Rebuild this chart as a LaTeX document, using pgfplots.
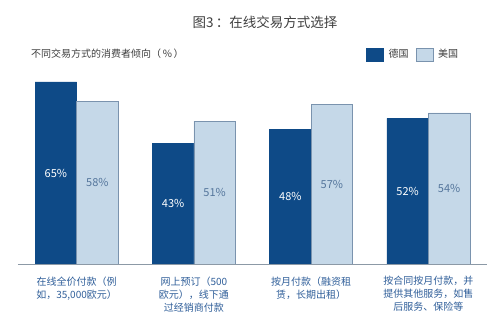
\documentclass[border=0pt]{standalone}
\usepackage{fontspec}
\setmainfont{Noto Sans CJK SC}
\usepackage{pgfplots}
\pgfplotsset{compat=1.18}
\definecolor{dblue}{HTML}{0E4A87}
\definecolor{lblue}{HTML}{C5D8E8}
\definecolor{lborder}{HTML}{7A93AE}
\definecolor{titlegray}{HTML}{3F3F3F}
\definecolor{catblue}{HTML}{2F5E99}
\definecolor{axisgray}{HTML}{8C99A6}
\definecolor{lighttext}{HTML}{55769C}
\begin{document}
\begin{tikzpicture}
\path[use as bounding box] (0,0) rectangle (500pt,328pt);
\node[font=\fontsize{13.5}{16}\selectfont, text=titlegray] at (265pt,306pt) {图3\,：在线交易方式选择};
\node[font=\fontsize{10}{12}\selectfont, text=titlegray, anchor=west, inner sep=0pt] at (31pt,274pt) {不同交易方式的消费者倾向（\,\%\,）};
\begin{axis}[
  at={(18pt,64pt)}, anchor=south west,
  scale only axis, width=469pt, height=196pt,
  ybar=0pt, bar width=41.5pt,
  xmin=-0.5, xmax=3.5, ymin=0, ymax=70,
  axis x line*=bottom, axis y line=none,
  x axis line style={-, draw=axisgray, line width=0.8pt},
  xtick={0,1,2,3}, major tick length=0pt,
  xticklabels={{在线全价付款（例\\如，35,000欧元）},{网上预订（500\\欧元），线下通\\过经销商付款},{按月付款（融资租\\赁，长期出租）},{按合同按月付款，并\\提供其他服务，如售\\后服务、保险等}},
  xticklabel style={align=center, font=\fontsize{10}{13}\selectfont, text=catblue, yshift=-9pt},
  /pgf/number format/assume math mode=true,
  nodes near coords={\pgfmathprintnumber{\pgfplotspointmeta}\%},
  visualization depends on={y \as \rawy},
  every node near coord/.append style={anchor=center, font=\fontsize{11}{13}\selectfont, shift={(axis direction cs:0,-\rawy/2)}},
  legend columns=2,
  legend style={at={(0.742,1.105)}, anchor=north west, draw=none, fill=none, inner sep=0pt, font=\fontsize{10}{12}\selectfont, text=titlegray,
    nodes={inner sep=0pt},
    /tikz/every odd column/.append style={column sep=5pt},
    /tikz/every even column/.append style={column sep=7pt}},
  legend image code/.code={\draw[#1] (0pt,-6.5pt) rectangle (17pt,6.5pt);},
]
\addplot[fill=dblue, draw=dblue, every node near coord/.append style={text=white}] coordinates {(0,65) (1,43) (2,48) (3,52)};
\addplot[fill=lblue, draw=lborder, every node near coord/.append style={text=lighttext}] coordinates {(0,58) (1,51) (2,57) (3,54)};
\legend{德国,美国}
\end{axis}
\end{tikzpicture}
\end{document}
